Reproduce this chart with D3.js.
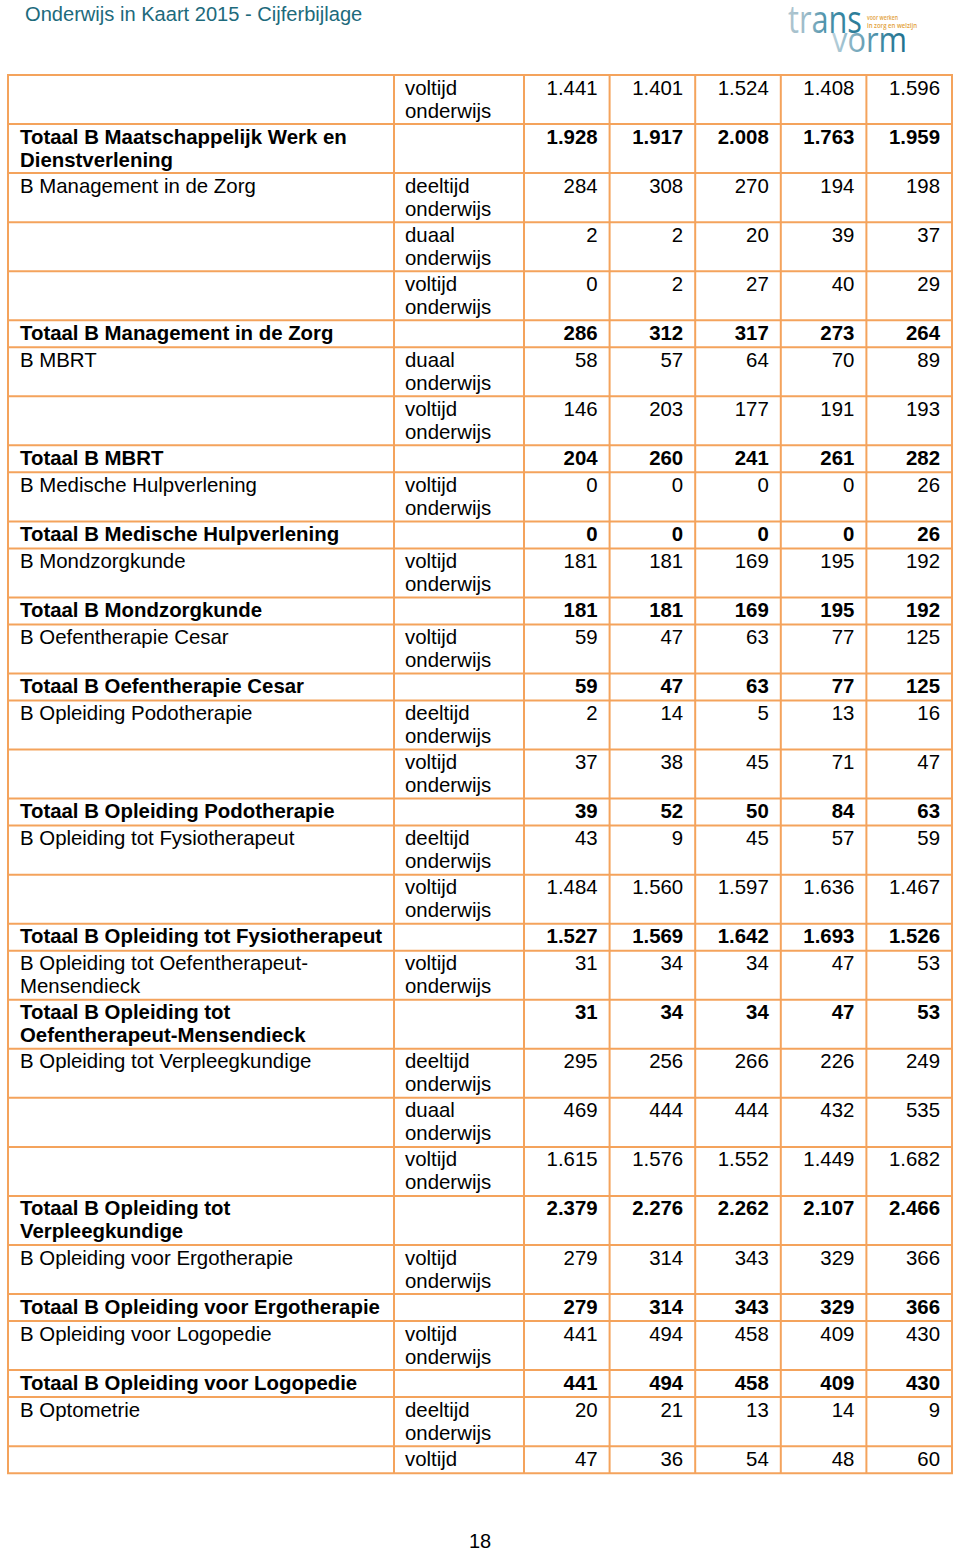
<!DOCTYPE html>
<html>
<head>
<meta charset="utf-8">
<script src="https://cdn.jsdelivr.net/npm/d3@7"></script>
<style>
  html, body { margin: 0; padding: 0; background: #fff; }
  svg { display: block; }
</style>
</head>
<body>
<svg id="chart" width="960" height="1552"></svg>
<script>
// ---------- data ----------
const labels = [
  "",
  "Totaal B Maatschappelijk Werk en\nDienstverlening",
  "B Management in de Zorg",
  "",
  "",
  "Totaal B Management in de Zorg",
  "B MBRT",
  "",
  "Totaal B MBRT",
  "B Medische Hulpverlening",
  "Totaal B Medische Hulpverlening",
  "B Mondzorgkunde",
  "Totaal B Mondzorgkunde",
  "B Oefentherapie Cesar",
  "Totaal B Oefentherapie Cesar",
  "B Opleiding Podotherapie",
  "",
  "Totaal B Opleiding Podotherapie",
  "B Opleiding tot Fysiotherapeut",
  "",
  "Totaal B Opleiding tot Fysiotherapeut",
  "B Opleiding tot Oefentherapeut-\nMensendieck",
  "Totaal B Opleiding tot\nOefentherapeut-Mensendieck",
  "B Opleiding tot Verpleegkundige",
  "",
  "",
  "Totaal B Opleiding tot\nVerpleegkundige",
  "B Opleiding voor Ergotherapie",
  "Totaal B Opleiding voor Ergotherapie",
  "B Opleiding voor Logopedie",
  "Totaal B Opleiding voor Logopedie",
  "B Optometrie",
  ""
];
const modes = [
  "voltijd onderwijs",
  "",
  "deeltijd onderwijs",
  "duaal onderwijs",
  "voltijd onderwijs",
  "",
  "duaal onderwijs",
  "voltijd onderwijs",
  "",
  "voltijd onderwijs",
  "",
  "voltijd onderwijs",
  "",
  "voltijd onderwijs",
  "",
  "deeltijd onderwijs",
  "voltijd onderwijs",
  "",
  "deeltijd onderwijs",
  "voltijd onderwijs",
  "",
  "voltijd onderwijs",
  "",
  "deeltijd onderwijs",
  "duaal onderwijs",
  "voltijd onderwijs",
  "",
  "voltijd onderwijs",
  "",
  "voltijd onderwijs",
  "",
  "deeltijd onderwijs",
  "voltijd"
];
const kolom1 = [1441,1928,284,2,0,286,58,146,204,0,0,181,181,59,59,2,37,39,43,1484,1527,31,31,295,469,1615,2379,279,279,441,441,20,47];
const kolom2 = [1401,1917,308,2,2,312,57,203,260,0,0,181,181,47,47,14,38,52,9,1560,1569,34,34,256,444,1576,2276,314,314,494,494,21,36];
const kolom3 = [1524,2008,270,20,27,317,64,177,241,0,0,169,169,63,63,5,45,50,45,1597,1642,34,34,266,444,1552,2262,343,343,458,458,13,54];
const kolom4 = [1408,1763,194,39,40,273,70,191,261,0,0,195,195,77,77,13,71,84,57,1636,1693,47,47,226,432,1449,2107,329,329,409,409,14,48];
const kolom5 = [1596,1959,198,37,29,264,89,193,282,26,26,192,192,125,125,16,47,63,59,1467,1526,53,53,249,535,1682,2466,366,366,430,430,9,60];
const kolommen = [kolom1, kolom2, kolom3, kolom4, kolom5];

const titel = "Onderwijs in Kaart 2015 - Cijferbijlage";
const paginaNummer = "18";

// ---------- layout ----------
const svg = d3.select("#chart");
const FONT = "'Liberation Sans', Arial, Helvetica, sans-serif";
const BORDER = "#f4a35c";
const tableTop = 75, tableLeft = 8, colLabelEnd = 394, colModeEnd = 524, tableRight = 952;

const nf = d3.formatLocale({decimal: ",", thousands: ".", grouping: [3], currency: ["€", ""]}).format(",d");

const rows = labels.map((l, i) => {
  const labelLines = l ? l.split("\n") : [];
  const modeLines = modes[i] ? modes[i].split(" ") : [];
  const n = Math.max(1, labelLines.length, modeLines.length);
  return {
    labelLines, modeLines, n,
    total: l.startsWith("Totaal"),
    vals: kolommen.map(k => k[i]),
    h: 27 + (n - 1) * 22.05
  };
});
const cum = [0, ...d3.cumsum(rows, r => r.h)];
const tableBottom = tableTop + cum[cum.length - 1];
const y = d3.scaleLinear().domain([0, cum[cum.length - 1]]).range([tableTop, tableBottom]);
rows.forEach((r, i) => { r.y0 = y(cum[i]); r.y1 = y(cum[i + 1]); });

const x = d3.scaleBand().domain(d3.range(5)).range([colModeEnd, tableRight]);

// ---------- header ----------
svg.append("text")
  .attr("x", 25).attr("y", 21)
  .attr("font-family", FONT).attr("font-size", 20.1)
  .attr("fill", "#1d6a7c")
  .text(titel);

// logo
const defs = svg.append("defs");
function grad(id, stops) {
  const lg = defs.append("linearGradient").attr("id", id)
    .attr("x1", "0%").attr("x2", "100%").attr("y1", "0%").attr("y2", "0%");
  stops.forEach((c, i) => lg.append("stop")
    .attr("offset", (i / (stops.length - 1) * 100) + "%").attr("stop-color", c));
}
grad("gTrans", ["#b0c6d0", "#9bbac8", "#4f93ab", "#3684a0", "#2a7a96"]);
grad("gVorm", ["#bcd2dc", "#7aaabd", "#3e88a3", "#1f6f8c"]);

const logo = svg.append("g").attr("font-family", "'Open Sans', Lato, sans-serif");
logo.append("text").attr("x", 788).attr("y", 33).attr("font-size", 38)
  .attr("textLength", 74).attr("lengthAdjust", "spacingAndGlyphs")
  .attr("fill", "url(#gTrans)").text("trans");
logo.append("text").attr("x", 832).attr("y", 52).attr("font-size", 34)
  .attr("textLength", 75).attr("lengthAdjust", "spacingAndGlyphs")
  .attr("fill", "url(#gVorm)").text("vorm");
logo.append("text").attr("x", 867).attr("y", 20).attr("font-size", 6.5).attr("font-weight", 600)
  .attr("textLength", 31).attr("lengthAdjust", "spacingAndGlyphs")
  .attr("fill", "#e3a23a").text("voor werken");
logo.append("text").attr("x", 867).attr("y", 27.5).attr("font-size", 6.5).attr("font-weight", 600)
  .attr("textLength", 50).attr("lengthAdjust", "spacingAndGlyphs")
  .attr("fill", "#e3a23a").text("in zorg en welzijn");

// ---------- table text ----------
const BASE = 19.5, LINE = 23;
const g = svg.append("g").attr("font-family", FONT).attr("font-size", 20.4).attr("fill", "#000");

const rowG = g.selectAll("g.row").data(rows).join("g").attr("class", "row");

rowG.each(function(r) {
  const sel = d3.select(this);
  const fw = r.total ? "bold" : "normal";
  r.labelLines.forEach((t, k) => {
    sel.append("text").attr("x", tableLeft + 12).attr("y", r.y0 + BASE + k * LINE)
      .attr("font-weight", fw).text(t);
  });
  r.modeLines.forEach((t, k) => {
    sel.append("text").attr("x", colLabelEnd + 11).attr("y", r.y0 + BASE + k * LINE).text(t);
  });
  r.vals.forEach((v, j) => {
    sel.append("text").attr("x", x(j) + x.bandwidth() - 12).attr("y", r.y0 + BASE)
      .attr("text-anchor", "end").attr("font-weight", fw).text(nf(v));
  });
});

// ---------- grid ----------
const grid = svg.append("g").attr("stroke", BORDER).attr("stroke-width", 2).attr("fill", "none");
const hLines = [tableTop, ...rows.map(r => r.y1)];
grid.selectAll("line.h").data(hLines).join("line").attr("class", "h")
  .attr("x1", tableLeft - 1).attr("x2", tableRight + 1)
  .attr("y1", d => d).attr("y2", d => d);
const vLines = [tableLeft, colLabelEnd, ...d3.range(5).map(j => x(j)), tableRight];
grid.selectAll("line.v").data(vLines).join("line").attr("class", "v")
  .attr("x1", d => d).attr("x2", d => d)
  .attr("y1", tableTop).attr("y2", tableBottom);

// ---------- footer ----------
svg.append("text")
  .attr("x", 480).attr("y", 1548).attr("text-anchor", "middle")
  .attr("font-family", FONT).attr("font-size", 20).attr("fill", "#000")
  .text(paginaNummer);
</script>
</body>
</html>
